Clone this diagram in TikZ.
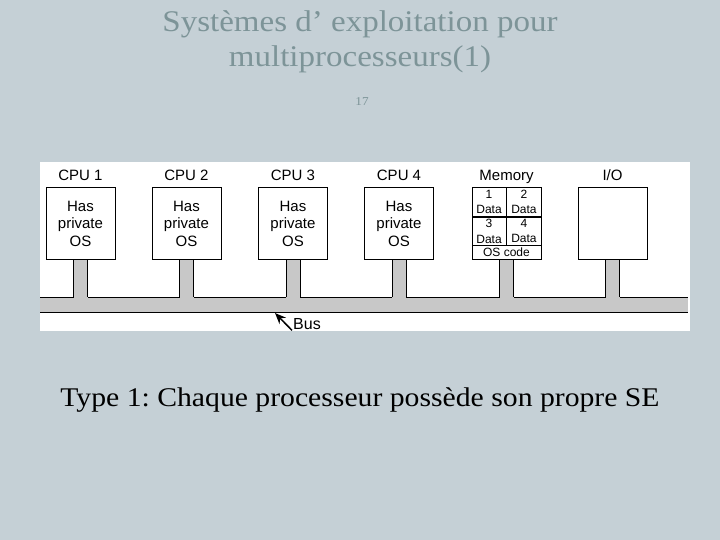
\documentclass[tikz,border=0pt]{standalone}
\usepackage{fontspec}
\setmainfont{Liberation Serif}
\newfontfamily\slidefont[FakeStretch=1.1]{Liberation Serif}
\newfontfamily\diagfont{Liberation Sans}
\usetikzlibrary{positioning,arrows.meta}
\definecolor{slidebg}{RGB}{197,208,214}
\definecolor{titlegray}{RGB}{125,148,152}
\definecolor{busgray}{RGB}{200,200,200}
\tikzset{unit/.style={draw,line width=1pt,fill=white,minimum width=69pt,minimum height=71pt,inner sep=0pt,align=center,font=\diagfont\fontsize{15}{17.5}\selectfont}}
\tikzset{cell/.style={draw,line width=0.6pt,inner sep=0pt,minimum width=34.5pt,minimum height=28.5pt,align=center,font=\diagfont\fontsize{12}{15.5}\selectfont}}
\tikzset{head/.style={font=\diagfont\fontsize{15}{17}\selectfont,text height=10.5pt,text depth=0pt}}
\frenchspacing

\begin{document}
\begin{tikzpicture}[x=1pt,y=-1pt,>=stealth]
    \fill[slidebg] (0,0) rectangle (720,540);
    \useasboundingbox (0,0) rectangle (720,540);
    \fill[white] (40,162) rectangle (690,331);
    % titre
    \node[titlegray,anchor=base,font=\slidefont\fontsize{30}{35}\selectfont] (title1) at (360,32) {Systèmes d’ exploitation pour};
    \node[titlegray,anchor=base,font=\slidefont\fontsize{30}{35}\selectfont] (title2) at (360,67) {multiprocesseurs(1)};
    \node[titlegray,anchor=base,font=\slidefont\fontsize{12}{14}\selectfont] (pagenum) at (362,106) {17};
    % units
    \node[unit] (c1) at (80.5,223.5) {Has\\private\\OS};
    \node[unit] (c2) at (186.5,223.5) {Has\\private\\OS};
    \node[unit] (c3) at (293,223.5) {Has\\private\\OS};
    \node[unit] (c4) at (399,223.5) {Has\\private\\OS};
    \node[unit] (mem) at (506.5,223.5) {};
    \node[unit] (io) at (612.5,223.5) {};
    \node[head,above=3pt of c1] (h1) {CPU 1};
    \node[head,above=3pt of c2] (h2) {CPU 2};
    \node[head,above=3pt of c3] (h3) {CPU 3};
    \node[head,above=3pt of c4] (h4) {CPU 4};
    \node[head,above=3pt of mem] (hmem) {Memory};
    \node[head,above=3pt of io] (hio) {I/O};
    % memory cells
    \node[cell,anchor=north west] (m1) at (mem.north west) {1\\Data};
    \node[cell,anchor=north east] (m2) at (mem.north east) {2\\Data};
    \node[cell,anchor=north west] (m3) at (m1.south west) {3\\Data};
    \node[cell,anchor=north east] (m4) at (m2.south east) {4\\Data};
    \node[cell,anchor=south,minimum width=69pt,minimum height=14pt,font=\diagfont\fontsize{12}{12}\selectfont] (oscode) at (mem.south) {OS code};
    \node[unit,fill=none] (memframe) at (mem) {};
    % bus
    \coordinate (busl) at (40,297);
    \coordinate (busr) at (688,312);
    \fill[busgray] (busl) rectangle (busr);
    \draw[line width=1pt] (busl) -- (busl -| busr);
    \draw[line width=1pt] (busl |- busr) -- (busr);
    \foreach \n in {c1,c2,c3,c4,mem,io}{
        \fill[busgray] ([xshift=-7pt,yshift=-0.5pt]\n.south) rectangle ([xshift=7pt,yshift=-1.5pt]\n.south |- busl);
        \draw[line width=1pt] ([xshift=-7pt]\n.south) -- ([xshift=-7pt]\n.south |- busl);
        \draw[line width=1pt] ([xshift=7pt]\n.south) -- ([xshift=7pt]\n.south |- busl);
    }
    % bus label
    \node[anchor=base west,inner sep=1pt,font=\diagfont\fontsize{16}{18}\selectfont] (buslabel) at (292,329) {Bus};
    \coordinate (bustip) at (275,313);
    \draw[-{Stealth[length=11pt,width=9pt]},line width=1.5pt] (buslabel.south west) -- (bustip);
    % texte
    \node[anchor=base,font=\slidefont\fontsize{27}{30}\selectfont] (caption) at (360,406) {Type 1: Chaque processeur possède son propre SE};
\end{tikzpicture}
\end{document}
